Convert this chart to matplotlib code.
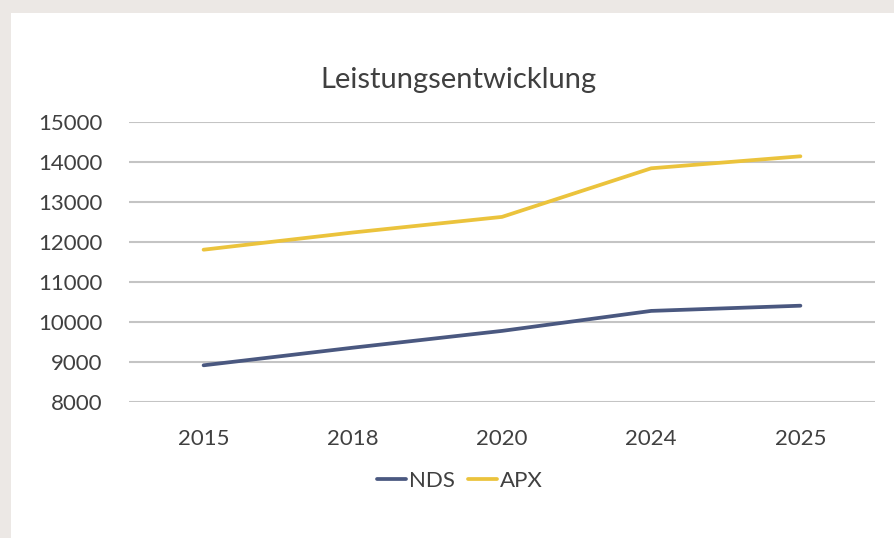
import matplotlib
matplotlib.use("Agg")
import matplotlib.pyplot as plt
from matplotlib.patches import Rectangle

years = ["2015", "2018", "2020", "2024", "2025"]
nds = [8910, 9350, 9770, 10270, 10400]
apx = [11800, 12230, 12620, 13835, 14135]
yticks = [8000, 9000, 10000, 11000, 12000, 13000, 14000, 15000]

plt.rcParams['font.family'] = ['Lato', 'DejaVu Sans']

W, H = 895, 538
fig = plt.figure(figsize=(W/100, H/100), dpi=100)
fig.patch.set_facecolor('#ece8e5')
fig.patches.append(Rectangle((11/W, 0), 1, (H-13)/H, transform=fig.transFigure,
                             facecolor='white', edgecolor='none', zorder=-5))

ax = fig.add_axes([129/W, 1-401.7/H, (875-129)/W, (401.7-121.7)/H])
ax.set_zorder(2)
ax.set_facecolor('none')
x = list(range(len(years)))
ax.plot(x, nds, color='#4a5880', lw=2.7, solid_capstyle='round', label='NDS', zorder=3)
ax.plot(x, apx, color='#ebc33c', lw=2.7, solid_capstyle='round', label='APX', zorder=3)

ax.set_xlim(-0.5, len(years)-0.5)
ax.set_ylim(8000, 15000)
ax.set_yticks(yticks)
ax.set_yticklabels([str(v) for v in yticks])
ax.set_xticks(x)
ax.set_xticklabels(years)
ax.grid(axis='y', color='#c4c4c4', lw=1.5)
ax.set_axisbelow(True)
for s in ax.spines.values():
    s.set_visible(False)
ax.tick_params(axis='both', length=0, labelsize=16, labelcolor='#404040')
ax.tick_params(axis='y', pad=19)
ax.tick_params(axis='x', pad=20)

fig.text(458/W, 1-80/H, 'Leistungsentwicklung', ha='center', va='center',
         fontsize=21, color='#404040', zorder=3)

fig.legend(loc='center', bbox_to_anchor=(460/W, 1-481/H), ncol=2, frameon=False,
           fontsize=16, handlelength=1.3, handletextpad=0.15, columnspacing=0.6,
           labelcolor='#404040')

fig.savefig('out.png', dpi=100, facecolor=fig.get_facecolor())
